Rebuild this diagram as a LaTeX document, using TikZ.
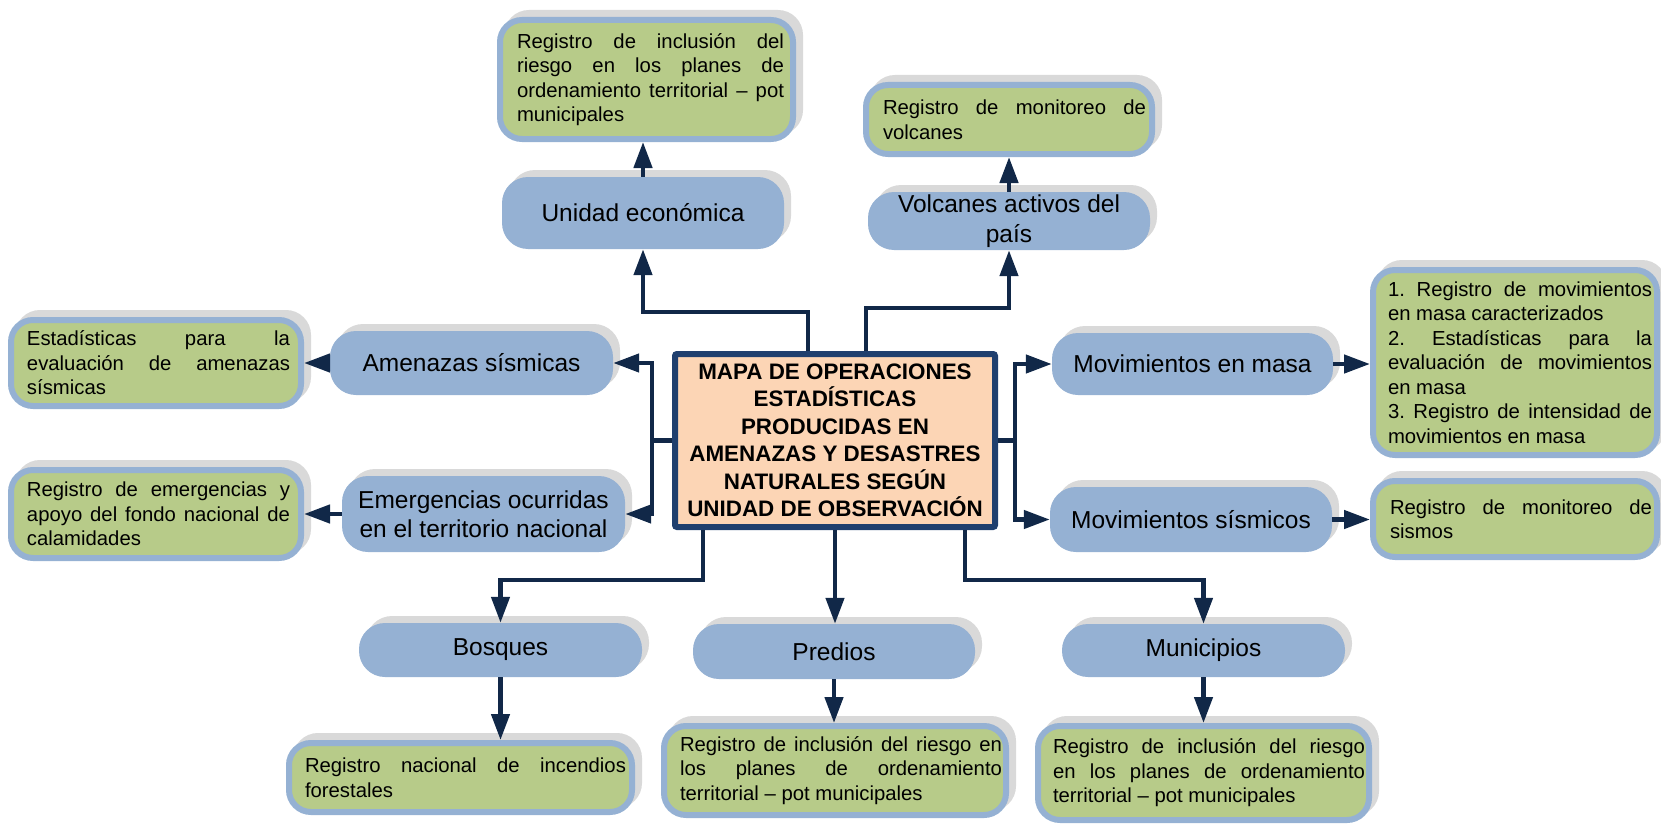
\documentclass[tikz,border=0pt]{standalone}
\usepackage{fontspec}
\setmainfont{Liberation Sans}
\usetikzlibrary{arrows.meta,shadows}
\definecolor{bluefill}{HTML}{95B1D3}
\definecolor{greenfill}{HTML}{B7CB89}
\definecolor{shadowgray}{HTML}{D9D9D9}
\definecolor{peach}{HTML}{FCD5B5}
\definecolor{navyborder}{HTML}{1F3F6E}
\definecolor{arrowcol}{HTML}{112848}
\frenchspacing
\newcommand\J[1]{\makebox[\linewidth][s]{#1}}
\newcommand\gtext[3]{\hspace*{#1pt}\parbox{#2pt}{\setlength\parindent{0pt}\raggedright #3}}
\tikzset{
  gbox/.style={draw=bluefill, line width=6pt, fill=greenfill, rounded corners=22pt, inner sep=0pt,
    general shadow={fill=shadowgray, draw=shadowgray, line width=6pt, shadow xshift=7pt, shadow yshift=7pt},
    font=\fontsize{20.3}{24.5}\selectfont},
  bbox/.style={fill=bluefill, rounded corners=26pt, inner sep=0pt, align=center,
    general shadow={fill=shadowgray, shadow xshift=7pt, shadow yshift=7pt},
    font=\fontsize{24.5}{29.5}\selectfont},
  cbox/.style={draw=navyborder, line width=6pt, fill=peach, rounded corners=2pt, inner sep=0pt, align=center,
    font=\fontsize{22.4}{27.5}\selectfont\bfseries},
  conn/.style={draw=arrowcol, line width=4.5pt, -{Triangle[width=18pt,length=26pt]}},
  cline/.style={draw=arrowcol, line width=4.5pt}
}
\begin{document}
\begin{tikzpicture}[x=1pt,y=-1pt]
\useasboundingbox (0,0) rectangle (1661,824);

% central node
\node[cbox, minimum width=320pt, minimum height=173pt] (C) at (835,440.5)
  {MAPA DE OPERACIONES\\ESTADÍSTICAS\\PRODUCIDAS EN\\AMENAZAS Y DESASTRES\\NATURALES SEGÚN\\UNIDAD DE OBSERVACIÓN};

% blue nodes
\node[bbox, minimum width=282pt, minimum height=72pt] (B1) at (643,213) {Unidad económica};
\node[bbox, minimum width=282pt, minimum height=58pt] (B2) at (1009,221) {Volcanes activos del\\país};
\node[bbox, minimum width=281pt, minimum height=62pt] (B3) at (1192.5,364) {Movimientos en masa};
\node[bbox, minimum width=282pt, minimum height=65pt] (B4) at (1191,519.5) {Movimientos sísmicos};
\node[bbox, minimum width=283pt, minimum height=64pt] (B5) at (471.5,363) {Amenazas sísmicas};
\node[bbox, minimum width=283pt, minimum height=76pt] (B6) at (483.5,514) {Emergencias ocurridas\\en el territorio nacional};
\node[bbox, minimum width=283pt, minimum height=54pt] (B7) at (500.5,650) {Bosques};
\node[bbox, minimum width=282pt, minimum height=55pt] (B8) at (834,651.5) {Predios};
\node[bbox, minimum width=283pt, minimum height=53pt] (B9) at (1203.5,650.5) {Municipios};

% green nodes
\node[gbox, minimum width=293pt, minimum height=119pt] (G1) at (646.5,79.5)
  {\gtext{8}{267}{\J{Registro de inclusión del}\\\J{riesgo en los planes de}\\\J{ordenamiento territorial – pot}\\municipales}};
\node[gbox, minimum width=286pt, minimum height=69pt] (G2) at (1009,119.5)
  {\gtext{11}{263}{\J{Registro de monitoreo de}\\volcanes}};
\node[gbox, minimum width=284pt, minimum height=185pt] (G3) at (1515,362.5)
  {\gtext{10}{264}{\J{1. Registro de movimientos}\\en masa caracterizados\\\J{2. Estadísticas para la}\\\J{evaluación de movimientos}\\en masa\\\J{3. Registro de intensidad de}\\movimientos en masa}};
\node[gbox, minimum width=284pt, minimum height=76pt] (G4) at (1515,519)
  {\gtext{12}{262}{\J{Registro de monitoreo de}\\sismos}};
\node[gbox, minimum width=290pt, minimum height=86pt] (G5) at (156,363)
  {\gtext{5}{263}{\J{Estadísticas para la}\\\J{evaluación de amenazas}\\sísmicas}};
\node[gbox, minimum width=290pt, minimum height=88pt] (G6) at (156,514)
  {\gtext{5}{263}{\J{Registro de emergencias y}\\\J{apoyo del fondo nacional de}\\calamidades}};
\node[gbox, minimum width=343pt, minimum height=69pt] (G7) at (460.5,777.5)
  {\gtext{10}{321}{\J{Registro nacional de incendios}\\forestales}};
\node[gbox, minimum width=342pt, minimum height=89pt] (G8) at (835,770.5)
  {\gtext{12}{322}{\J{Registro de inclusión del riesgo en}\\\J{los planes de ordenamiento}\\territorial – pot municipales}};
\node[gbox, minimum width=331pt, minimum height=94pt] (G9) at (1203.5,773)
  {\gtext{11}{312}{\J{Registro de inclusión del riesgo}\\\J{en los planes de ordenamiento}\\territorial – pot municipales}};

% helper coordinates
\coordinate (Ct1) at ([xshift=-27pt]C.north);
\coordinate (Ct2) at ([xshift=31pt]C.north);
\coordinate (Cb1) at ([xshift=-132pt]C.south);
\coordinate (Cb3) at ([xshift=130pt]C.south);
\coordinate (h1) at (0,312);
\coordinate (h2) at (0,308);
\coordinate (h3) at (0,580);
\coordinate (Lj) at (652,440.5);
\coordinate (Rj) at (1015,440.5);

% connectors from centre
\draw[conn] (Ct1) -- (Ct1 |- h1) -| (B1.south);
\draw[conn] (Ct2) -- (Ct2 |- h2) -| (B2.south);
\draw[cline] (C.west) -- (Lj);
\draw[conn] (Lj) |- (B5.east);
\draw[conn] (Lj) |- (B6.east);
\draw[cline] (C.east) -- (Rj);
\draw[conn] (Rj) |- (B3.west);
\draw[conn] (Rj) |- (B4.west);
\draw[conn] (Cb1) -- (Cb1 |- h3) -| (B7.north);
\draw[conn] (C.south) -- (C.south |- B8.north);
\draw[conn] (Cb3) -- (Cb3 |- h3) -| (B9.north);

% connectors to green boxes
\draw[conn] (B1.north) -- (B1.north |- G1.south);
\draw[conn] (B2.north) -- (B2.north |- G2.south);
\draw[conn] (B3.east) -- (B3.east -| G3.west);
\draw[conn] (B4.east) -- (B4.east -| G4.west);
\draw[conn] (B5.west) -- (B5.west -| G5.east);
\draw[conn] (B6.west) -- (B6.west -| G6.east);
\draw[conn] (B7.south) -- (B7.south |- G7.north);
\draw[conn] (B8.south) -- (B8.south |- G8.north);
\draw[conn] (B9.south) -- (B9.south |- G9.north);
\end{tikzpicture}
\end{document}
